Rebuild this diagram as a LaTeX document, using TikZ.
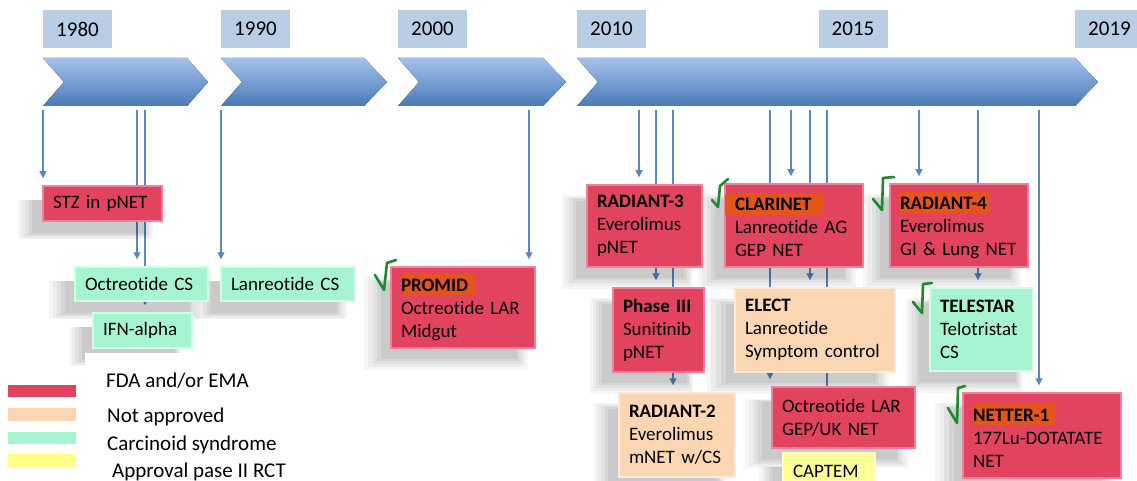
\documentclass[tikz,border=0pt]{standalone}
\usepackage{fontspec}
\setmainfont[Ligatures={NoCommon}]{Carlito}
\usetikzlibrary{arrows.meta,shadows,backgrounds}
\pgfdeclarelayer{paper}
\pgfdeclarelayer{background}
\pgfsetlayers{paper,background,main}
\definecolor{redf}{HTML}{E2435F}
\definecolor{redd}{HTML}{F0819A}
\definecolor{grnf}{HTML}{A6F5D0}
\definecolor{grnd}{HTML}{D2FBE8}
\definecolor{pchf}{HTML}{FBD6B2}
\definecolor{pchd}{HTML}{FDE9D5}
\definecolor{ylwf}{HTML}{FFFF99}
\definecolor{ylwd}{HTML}{FFFFCC}
\definecolor{yearf}{HTML}{B9CDE5}
\definecolor{linec}{HTML}{5A86C2}
\definecolor{hlc}{HTML}{E4541B}
\definecolor{chk}{HTML}{1E8A2C}
\definecolor{chevt}{HTML}{A3C1EA}
\definecolor{chevm}{HTML}{6C98D4}
\definecolor{chevb}{HTML}{4A7AB9}
\newcommand\hlt[2]{\begingroup\setlength{\fboxsep}{0pt}\colorbox{hlc}{\rule[-4pt]{0pt}{21pt}\textbf{#1}\hspace{#2}}\endgroup}
\newcommand\chevr[3]{\fill[chev] (#1,58) -- (#2,58) -- (#3,82) -- (#2,106) -- (#1,106) -- ({#1+21},82) -- cycle;}
\begin{document}
\begin{tikzpicture}[x=1pt,y=-1pt,
  softshadow/.style={
    general shadow={fill=black, opacity=0.035, draw=none, shadow xshift=-15pt, shadow yshift=-14pt, shadow scale=1.14},
    general shadow={fill=black, opacity=0.04, draw=none, shadow xshift=-15pt, shadow yshift=-14pt, shadow scale=1.09},
    general shadow={fill=black, opacity=0.045, draw=none, shadow xshift=-15pt, shadow yshift=-14pt, shadow scale=1.04},
    general shadow={fill=black, opacity=0.05, draw=none, shadow xshift=-15pt, shadow yshift=-14pt, shadow scale=0.99},
    general shadow={fill=black, opacity=0.05, draw=none, shadow xshift=-15pt, shadow yshift=-14pt, shadow scale=0.94}},
  box/.style={inner xsep=10pt, inner ysep=0pt, align=left, font=\fontsize{19}{23}\selectfont,
    line width=1.5pt, softshadow},
  rbox/.style={box, fill=redf, draw=redd},
  gbox/.style={box, fill=grnf, draw=grnd},
  pbox/.style={box, fill=pchf, draw=pchd},
  ybox/.style={box, fill=ylwf, draw=ylwd},
  conn/.style={draw=linec, line width=1.1pt, shorten >=7pt, -{Triangle[length=7pt,width=7pt]}},
  year/.style={fill=yearf, minimum width=69pt, minimum height=38pt, font=\fontsize{21}{24}\selectfont, inner sep=0pt},
  chev/.style={top color=chevt, middle color=chevm, bottom color=chevb},
  check/.style={draw=chk, line width=2.6pt, line join=round, line cap=round},
  legtxt/.style={anchor=base west, inner sep=0pt, font=\fontsize{21}{24}\selectfont}]
\useasboundingbox (0,0) rectangle (1137,481);
\clip (0,0) rectangle (1137,481);
\begin{pgfonlayer}{paper}
\fill[white] (0,0) rectangle (1137,481);
\end{pgfonlayer}
% year labels
\node[year] (y1980) at (77.5,29) {1980};
\node[year] (y1990) at (255.5,29) {1990};
\node[year] (y2000) at (432.5,29) {2000};
\node[year] (y2010) at (611.5,29) {2010};
\node[year] (y2015) at (853,29) {2015};
\node[year] (y2019) at (1109.5,29) {2019};
% chevrons
\chevr{43}{187}{208}
\chevr{221}{364}{387}
\chevr{398}{543}{566}
\chevr{577}{1075}{1098}
% boxes (drawn so that shadows fall on nothing drawn later)
\node[rbox, minimum width=138pt, minimum height=83pt, text width=118pt] (r4) at (959,225.5)
  {\hlt{RADIANT-4}{2pt}\\Everolimus\\GI \& Lung NET};
\node[gbox, minimum width=103pt, minimum height=83pt, text width=83pt] (tel) at (981.5,329.5)
  {\textbf{TELESTAR}\\Telotristat\\CS};
\node[rbox, minimum width=158pt, minimum height=85pt, text width=138pt] (net) at (1042,435.5)
  {\hlt{NETTER-1}{6pt}\\\mbox{177Lu-DOTATATE}\\NET};
\node[rbox, minimum width=138pt, minimum height=83pt, text width=118pt] (clar) at (794,225.5)
  {\hspace{-10pt}\hlt{\hspace{10pt}CLARINET}{12pt}\\Lanreotide AG\\GEP NET};
\node[pbox, minimum width=160pt, minimum height=84pt, text width=140pt] (elect) at (815,330)
  {\textbf{ELECT}\\Lanreotide\\\mbox{Symptom control}};
\node[rbox, minimum width=143pt, minimum height=61pt, text width=123pt] (olar) at (843.5,417.5)
  {Octreotide LAR\\GEP/UK NET};
\node[rbox, minimum width=115pt, minimum height=82pt, text width=95pt] (r3) at (644.5,226)
  {\textbf{RADIANT-3}\\Everolimus\\pNET};
\node[ybox, minimum width=92pt, minimum height=36pt, text width=72pt] (captem) at (829,471)
  {CAPTEM};
\node[rbox, minimum width=91pt, minimum height=84pt, text width=71pt] (p3) at (658.5,330)
  {\textbf{Phase III}\\Sunitinib\\pNET};
\node[pbox, minimum width=116pt, minimum height=84pt, text width=96pt] (r2) at (677,435)
  {\textbf{RADIANT-2}\\Everolimus\\mNET w/CS};
\node[rbox, minimum width=144pt, minimum height=81pt, text width=124pt] (promid) at (463,307.5)
  {\hlt{PROMID}{7pt}\\Octreotide LAR\\Midgut};
\node[gbox, minimum width=134pt, minimum height=34pt, text width=114pt] (lan) at (288,284)
  {Lanreotide CS};
\node[rbox, minimum width=119pt, minimum height=35pt, text width=99pt] (stz) at (102.5,203.5)
  {STZ in pNET};
\node[gbox, minimum width=133pt, minimum height=34pt, text width=113pt] (oct) at (141.5,284)
  {Octreotide CS};
\node[gbox, minimum width=99pt, minimum height=35pt, text width=79pt] (ifn) at (142.5,330.5)
  {IFN-alpha};
% connector start points on the time arrows
\coordinate (s1) at (43,110);
\coordinate (s2) at (137,110);
\coordinate (s3) at (145,110);
\coordinate (s4) at (221,110);
\coordinate (s5) at (529,110);
\coordinate (s6) at (639,110);
\coordinate (s7) at (656,110);
\coordinate (s8) at (673,110);
\coordinate (s9) at (770,110);
\coordinate (s10) at (791,110);
\coordinate (s11) at (810,110);
\coordinate (s12) at (827,110);
\coordinate (s13) at (919,110);
\coordinate (s14) at (978,110);
\coordinate (s15) at (1039,110);
\begin{pgfonlayer}{background}
\draw[conn] (s1) -- (s1 |- stz.north);
\draw[conn] (s2) -- (s2 |- oct.north);
\draw[conn] (s3) -- (s3 |- ifn.north);
\draw[conn] (s4) -- (s4 |- lan.north);
\draw[conn] (s5) -- (s5 |- promid.north);
\draw[conn] (s6) -- (s6 |- r3.north);
\draw[conn] (s7) -- (s7 |- p3.north);
\draw[conn] (s8) -- (s8 |- r2.north);
\draw[conn] (s9) -- (s9 |- olar.north);
\draw[conn] (s10) -- (s10 |- clar.north);
\draw[conn] (s11) -- (s11 |- elect.north);
\draw[conn] (s12) -- (s12 |- captem.north);
\draw[conn] (s13) -- (s13 |- r4.north);
\draw[conn] (s14) -- (s14 |- tel.north);
\draw[conn] (s15) -- (s15 |- net.north);
\end{pgfonlayer}
% check marks
\draw[check] (375,275) -- (384,290) -- (387,263) -- (396,260);
\draw[check] (712,200) -- (718,207) -- (720,186) -- (728,179);
\draw[check] (873,199) -- (882,210) -- (883,178) -- (894,177);
\draw[check] (913,302) -- (922,313) -- (923,284) -- (932,283);
\draw[check] (948,408) -- (957,423) -- (958,388) -- (965,386);
% legend
\fill[white] (85,353) rectangle (310,481);
\fill[redf] (8,385) rectangle (76,397);
\fill[pchf] (8,408) rectangle (76,421);
\fill[grnf] (8,432) rectangle (76,444);
\fill[ylwf!90!yellow] (8,454) rectangle (76,467);
\node[legtxt] (l1) at (106,387) {FDA and/or EMA};
\node[legtxt] (l2) at (107,422) {Not approved};
\node[legtxt] (l3) at (107,450) {Carcinoid syndrome};
\node[legtxt] (l4) at (112,477) {Approval pase II RCT};
\end{tikzpicture}
\end{document}
